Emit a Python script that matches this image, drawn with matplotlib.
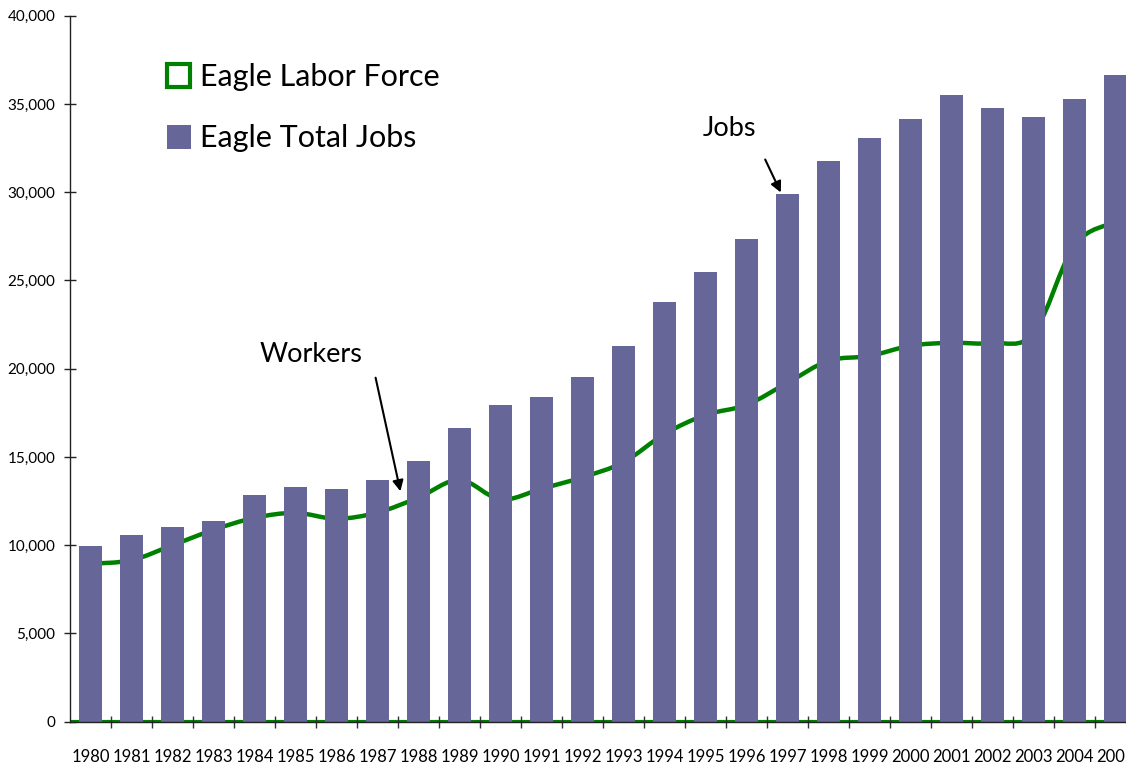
import numpy as np
import matplotlib.pyplot as plt
from matplotlib.path import Path
from matplotlib.patches import PathPatch, Rectangle, FancyArrowPatch

plt.rcParams['font.family'] = ['Lato', 'DejaVu Sans']

# data
years = [str(y) for y in range(1980, 2006)]
total_jobs = [9950, 10600, 11050, 11350, 12850, 13300, 13200, 13700, 14780, 16650,
              17950, 18400, 19540, 21300, 23790, 25490, 27360, 29910, 31780, 33090,
              34160, 35520, 34790, 34280, 35300, 36650]
labor_force = [8950, 9150, 10000, 10870, 11550, 11830, 11500, 11850, 12700, 13700,
               12600, 13200, 13850, 14700, 16300, 17380, 17950, 19200, 20450, 20720,
               21300, 21470, 21450, 22000, 27000, 28300]
y_ticks = list(range(0, 40001, 5000))

BAR = '#666699'
GREEN = '#008000'

W, H = 1126, 765
fig = plt.figure(figsize=(W / 100, H / 100), dpi=100)
ax = fig.add_axes([70 / W, 1 - 721.7 / H, 1 - 70 / W, (721.7 - 15.7) / H])

x = np.arange(len(years))
ax.axhline(0, color=GREEN, lw=3, zorder=1)

# smoothed line (Catmull-Rom as cubic bezier segments, like Excel's smooth line)
pts = np.column_stack([x, labor_force]).astype(float)
verts = [pts[0]]
codes = [Path.MOVETO]
n = len(pts)
for i in range(n - 1):
    p0 = pts[max(i - 1, 0)]
    p1 = pts[i]
    p2 = pts[i + 1]
    p3 = pts[min(i + 2, n - 1)]
    c1 = p1 + (p2 - p0) / 6
    c2 = p2 - (p3 - p1) / 6
    verts += [c1, c2, p2]
    codes += [Path.CURVE4] * 3
ax.add_patch(PathPatch(Path(verts, codes), fill=False, edgecolor=GREEN, lw=3.2,
                       zorder=1.5, capstyle='round', joinstyle='round'))

# bars sit on top of the line, as in the original
ax.bar(x, total_jobs, width=0.54, color=BAR, zorder=2)

ax.set_xlim(-0.5, -0.5 + (W - 70) / 41)
ax.set_ylim(0, 40000)
for s in ['top', 'right']:
    ax.spines[s].set_visible(False)
for s in ['left', 'bottom']:
    ax.spines[s].set_color('#222222')
    ax.spines[s].set_linewidth(1)
    ax.spines[s].set_zorder(4)

ax.set_yticks(y_ticks)
ax.set_yticklabels([f'{v:,}' for v in y_ticks])
ax.tick_params(axis='y', direction='inout', length=9, width=1, color='#222222',
               labelsize=11, pad=6)

ax.set_xticks(x[:-1] + 0.5)
ax.set_xticklabels([])
ax.set_xticks(x, minor=True)
ax.set_xticklabels(years, minor=True)
ax.tick_params(axis='x', which='major', direction='inout', length=9, width=1,
               color='#333333')
ax.tick_params(axis='x', which='minor', length=0, labelsize=12, pad=20)

# legend drawn by hand
fig.patches.append(Rectangle((167 / W, 1 - 87 / H), 23 / W, 23 / H, transform=fig.transFigure,
                             facecolor='white', edgecolor=GREEN, lw=3))
fig.patches.append(Rectangle((167 / W, 1 - 149 / H), 24 / W, 24 / H, transform=fig.transFigure,
                             facecolor=BAR, edgecolor='none'))
fig.text(200 / W, 1 - 77 / H, 'Eagle Labor Force', fontsize=22, va='center', ha='left')
fig.text(200 / W, 1 - 138 / H, 'Eagle Total Jobs', fontsize=22, va='center', ha='left')

# callouts
fig.text(311 / W, 1 - 354 / H, 'Workers', fontsize=19.5, ha='center', va='center')
fig.text(729 / W, 1 - 128 / H, 'Jobs', fontsize=19.5, ha='center', va='center')
fig.add_artist(FancyArrowPatch(
    (375 / W, 1 - 375 / H), (401 / W, 1 - 494 / H), transform=fig.transFigure,
    arrowstyle='-|>', mutation_scale=16, lw=1.5, color='black'))
fig.add_artist(FancyArrowPatch(
    (764 / W, 1 - 157 / H), (782 / W, 1 - 195 / H), transform=fig.transFigure,
    arrowstyle='-|>', mutation_scale=16, lw=1.5, color='black'))

fig.savefig('out.png', dpi=100)
